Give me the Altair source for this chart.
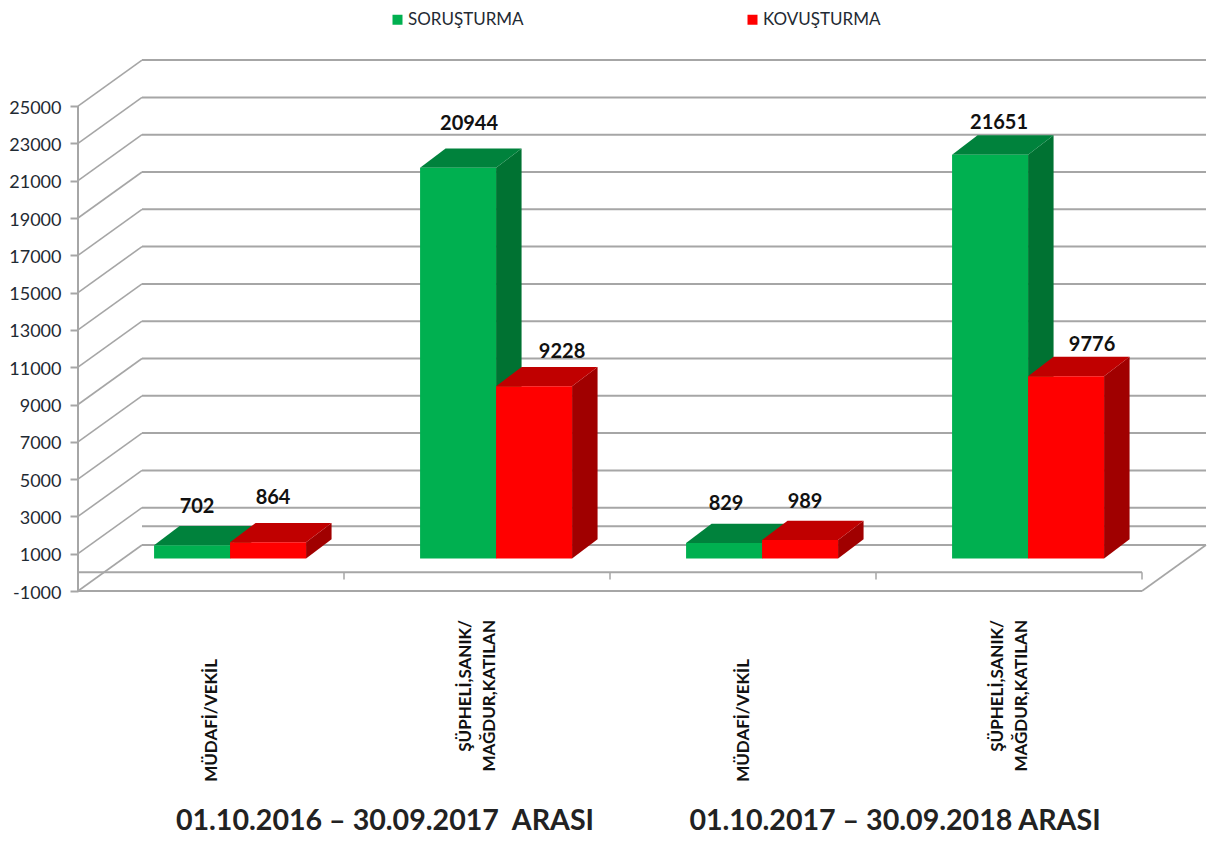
import altair as alt
import pandas as pd

# --- data
CATEGORIES = ["MÜDAFİ/VEKİL", "ŞÜPHELİ,SANIK/\nMAĞDUR,KATILAN", "MÜDAFİ/VEKİL", "ŞÜPHELİ,SANIK/\nMAĞDUR,KATILAN"]
SERIES = ["SORUŞTURMA", "KOVUŞTURMA"]
SORUSTURMA = [702, 20944, 829, 21651]
KOVUSTURMA = [864, 9228, 989, 9776]
TICKS = [-1000, 1000, 3000, 5000, 7000, 9000, 11000, 13000, 15000, 17000, 19000, 21000, 23000, 25000]
PERIODS = ["01.10.2016 – 30.09.2017 \u00a0ARASI", "01.10.2017 – 30.09.2018 ARASI"]

# --- layout
FONT = "Lato"
PX_X = 266.0           # pixels per category
PX_Y = 37.3 / 2000     # pixels per value unit
W, H = 1129, 530
XMAX = W / PX_X
YMIN = -1000
YMAX = YMIN + H / PX_Y
DX = 64 / PX_X         # full floor depth, in x units
DY = 46 / PX_Y         # full floor depth, in y units
Z0X, Z0Y, Z1 = 0.298, 0.302, 0.722   # bar depth span within the floor
BAR = 76 / PX_X
GRID = "#A6A6A6"
COLORS = {"SORUŞTURMA": ("#00B050", "#00823C", "#007232"),
          "KOVUŞTURMA": ("#FF0000", "#C00000", "#A00000")}
# label nudges (px) from the front-centre / back-top of each bar
NUDGE = {"SORUŞTURMA": [(5, -19), (11, -25), (2, -20), (9, -12)],
         "KOVUŞTURMA": [(5, -25), (28, -15), (5, -19), (26, -12)]}

xs = alt.Scale(domain=[0, XMAX], nice=False, zero=False)
ys = alt.Scale(domain=[YMIN, YMAX], nice=False, zero=False)
y_axis = alt.Axis(values=TICKS, domain=False, grid=False, tickSize=8, tickColor=GRID, tickWidth=2,
                  labelFont=FONT, labelFontSize=18, labelColor="#1F2A33", labelPadding=9, labelOffset=2,
                  labelExpr="toString(datum.value)")
X = lambda f="x": alt.X(f"{f}:Q", scale=xs, axis=None, title=None)
Y = lambda f="y": alt.Y(f"{f}:Q", scale=ys, axis=y_axis, title=None)
X2 = lambda f="x2": alt.X2(f"{f}:Q")
Y2 = lambda f="y2": alt.Y2(f"{f}:Q")

layers = []

# back wall lines
levels = sorted(TICKS + [0])
back = pd.DataFrame({"x": [DX] * len(levels), "x2": [4 + DX] * len(levels), "y": [v + DY for v in levels]})
layers.append(alt.Chart(back).mark_rule(color=GRID, strokeWidth=2).encode(x=X(), x2=X2(), y=Y()))

# left diagonals, and the right floor edge
diag = pd.DataFrame({"x": [0.0] * len(TICKS) + [4.0], "x2": [DX] * len(TICKS) + [4 + DX],
                     "y": TICKS + [-1000], "y2": [v + DY for v in TICKS] + [-1000 + DY]})
layers.append(alt.Chart(diag).mark_rule(color=GRID, strokeWidth=1.6).encode(x=X(), x2=X2(), y=Y(), y2=Y2()))

# front floor lines and the value axis line
front = pd.DataFrame({"x": [0.0, 0.0], "x2": [4.0, 4.0], "y": [-1000, 0]})
layers.append(alt.Chart(front).mark_rule(color=GRID, strokeWidth=2).encode(x=X(), x2=X2(), y=Y()))
axis_df = pd.DataFrame({"x": [0.0], "y": [-1000], "y2": [25000]})
layers.append(alt.Chart(axis_df).mark_rule(color=GRID, strokeWidth=2).encode(x=X(), y=Y(), y2=Y2()))

# category separators
sep = pd.DataFrame({"x": [1, 2, 3, 4], "y": [0, 0, 0, 0], "y2": [-380, -380, -380, -380]})
layers.append(alt.Chart(sep).mark_rule(color=GRID, strokeWidth=1.5).encode(x=X(), y=Y(), y2=Y2()))

# 3D bars
base = Z0Y * DY
xoff = Z0X * DX
depth_x = 25.5 / PX_X
depth_y = (Z1 - Z0Y) * DY
labels = []
for s, (name, vals) in enumerate(zip(SERIES, [SORUSTURMA, KOVUSTURMA])):
    fc, tc, sc = COLORS[name]
    side, top, face = [], [], []
    for i, v in enumerate(vals):
        x0 = i + 0.5 + xoff + (s - 1) * BAR
        x1 = x0 + BAR
        t = v + base
        side += [dict(b=i, x=x1, y=base, y2=t), dict(b=i, x=x1 + depth_x, y=base + depth_y, y2=t + depth_y)]
        top += [dict(b=i, x=x0, y=t, y2=t),
                dict(b=i, x=x0 + depth_x, y=t, y2=t + depth_y),
                dict(b=i, x=x1, y=t, y2=t + depth_y),
                dict(b=i, x=x1 + depth_x, y=t + depth_y, y2=t + depth_y)]
        face.append(dict(x=x0, x2=x1, y=base, y2=t, series=name))
        nx, ny = NUDGE[name][i]
        labels.append(dict(x=(x0 + x1) / 2 + nx / PX_X, y=t + depth_y - ny / PX_Y, t=str(v)))
    layers.append(alt.Chart(pd.DataFrame(side)).mark_area(color=sc).encode(
        x=X(), y=Y(), y2=Y2(), detail="b:N"))
    layers.append(alt.Chart(pd.DataFrame(top)).mark_area(color=tc).encode(
        x=X(), y=Y(), y2=Y2(), detail="b:N"))
    layers.append(alt.Chart(pd.DataFrame(face)).mark_bar().encode(
        x=X(), x2=X2(), y=Y(), y2=Y2(),
        color=alt.Color("series:N",
                        scale=alt.Scale(domain=SERIES, range=[COLORS[n][0] for n in SERIES]),
                        sort=SERIES,
                        legend=alt.Legend(title=None, orient="none", legendX=311, legendY=-50,
                                          direction="horizontal", columns=2, columnPadding=220,
                                          symbolType="square", symbolSize=100, symbolStrokeWidth=0,
                                          labelFont=FONT, labelFontSize=17, labelColor="#1F2A33",
                                          labelOffset=2))))

# value labels
layers.append(alt.Chart(pd.DataFrame(labels)).mark_text(
    font=FONT, fontWeight="bold", fontSize=20, color="#111111", baseline="middle", align="center").encode(
    x=X(), y=Y(), text="t:N"))

# category labels (rotated, below the floor)
for group, top_px, shift in [((0, 2), 598, 1), ((1, 3), 559, -11)]:
    df = pd.DataFrame({"x": [g + 0.5 + shift / PX_X for g in group], "t": [CATEGORIES[g] for g in group]})
    layers.append(alt.Chart(df).mark_text(
        font=FONT, fontWeight="bold", fontSize=17, color="#111111", angle=270, align="right",
        baseline="middle", lineBreak="\n", lineHeight=24).encode(
        x=X(), y=alt.value(top_px), text="t:N"))

# period captions
for text, cx in zip(PERIODS, (385 - 78, 895 - 78)):
    layers.append(alt.Chart(pd.DataFrame({"t": [text]})).mark_text(
        font=FONT, fontWeight="bold", fontSize=28.6, color="#222222", align="center", baseline="middle").encode(
        x=alt.value(cx), y=alt.value(760), text="t:N"))

chart = alt.layer(*layers).properties(
    width=W, height=H,
    autosize=alt.AutoSizeParams(type="none"),
    padding={"left": 70, "top": 53, "right": 2, "bottom": 251},
    background="white",
).configure_view(stroke=None)

chart.save("out.html", embed_options={"renderer": "svg", "actions": False})
